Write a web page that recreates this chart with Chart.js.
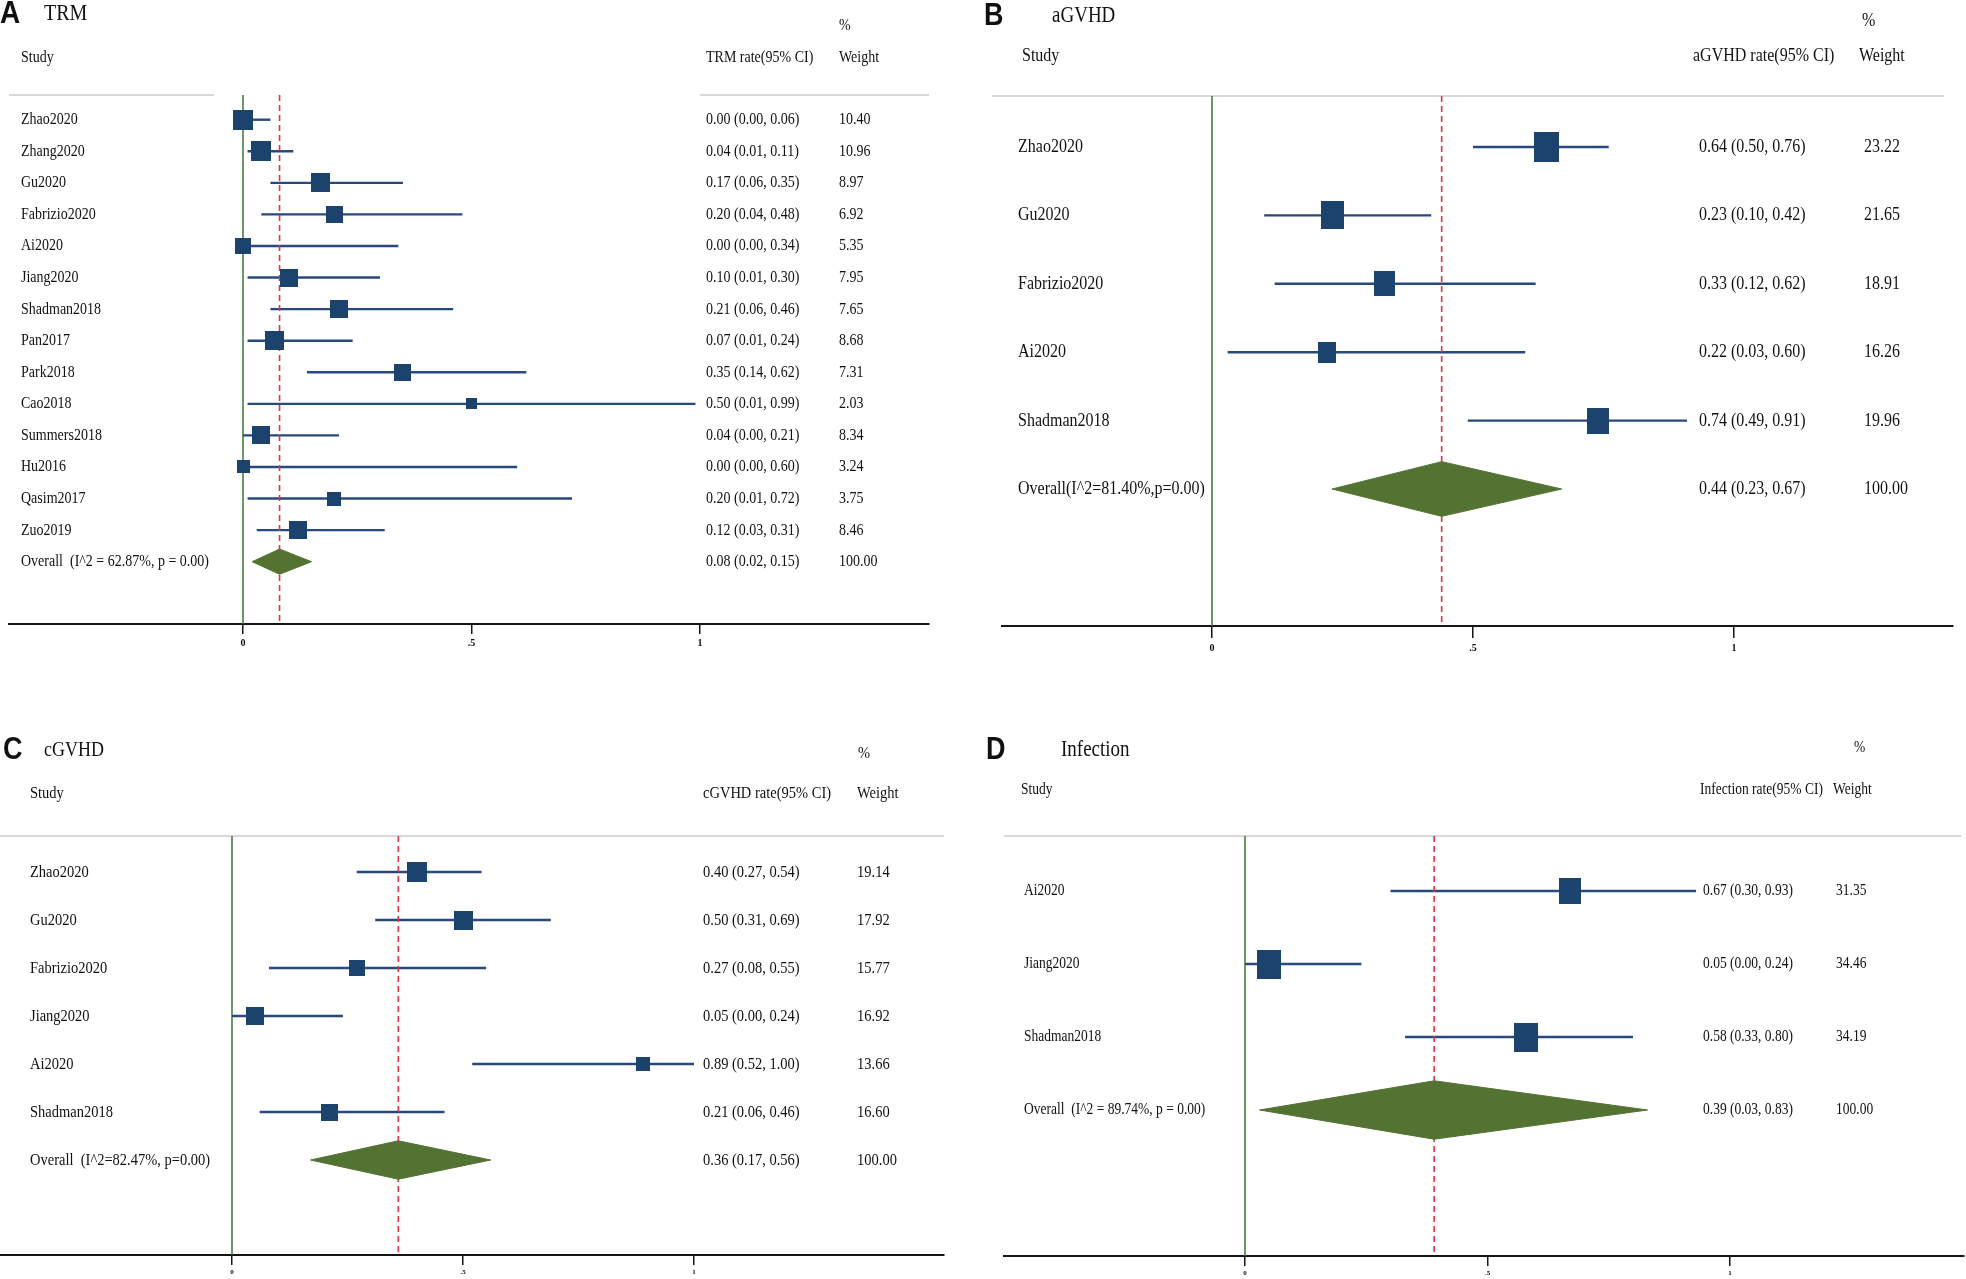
<!DOCTYPE html>
<html>
<head>
<meta charset="utf-8">
<script src="https://cdn.jsdelivr.net/npm/chart.js@4.4.1/dist/chart.umd.min.js"></script>
<style>
  html, body { margin: 0; padding: 0; background: #fff; }
  #wrap { position: relative; width: 1966px; height: 1279px; overflow: hidden; }
  canvas { position: absolute; }
</style>
</head>
<body>
<div id="wrap">
  <canvas id="panelA"></canvas>
  <canvas id="panelB"></canvas>
  <canvas id="panelC"></canvas>
  <canvas id="panelD"></canvas>
</div>
<script>
// axis ticks shared by all four plots
const tickValues = [0, 0.5, 1];
const tickLabels = ['0', '.5', '1'];

// A: TRM
const trmStudies = ['Zhao2020', 'Zhang2020', 'Gu2020', 'Fabrizio2020', 'Ai2020', 'Jiang2020', 'Shadman2018',
  'Pan2017', 'Park2018', 'Cao2018', 'Summers2018', 'Hu2016', 'Qasim2017', 'Zuo2019'];
const trmRate = [0.00, 0.04, 0.17, 0.20, 0.00, 0.10, 0.21, 0.07, 0.35, 0.50, 0.04, 0.00, 0.20, 0.12];
const trmLow = [0.00, 0.01, 0.06, 0.04, 0.00, 0.01, 0.06, 0.01, 0.14, 0.01, 0.00, 0.00, 0.01, 0.03];
const trmHigh = [0.06, 0.11, 0.35, 0.48, 0.34, 0.30, 0.46, 0.24, 0.62, 0.99, 0.21, 0.60, 0.72, 0.31];
const trmWeight = [10.40, 10.96, 8.97, 6.92, 5.35, 7.95, 7.65, 8.68, 7.31, 2.03, 8.34, 3.24, 3.75, 8.46];
const trmOverall = [0.08, 0.02, 0.15];

// B: aGVHD
const agvhdStudies = ['Zhao2020', 'Gu2020', 'Fabrizio2020', 'Ai2020', 'Shadman2018'];
const agvhdRate = [0.64, 0.23, 0.33, 0.22, 0.74];
const agvhdLow = [0.50, 0.10, 0.12, 0.03, 0.49];
const agvhdHigh = [0.76, 0.42, 0.62, 0.60, 0.91];
const agvhdWeight = [23.22, 21.65, 18.91, 16.26, 19.96];
const agvhdOverall = [0.44, 0.23, 0.67];

// C: cGVHD
const cgvhdStudies = ['Zhao2020', 'Gu2020', 'Fabrizio2020', 'Jiang2020', 'Ai2020', 'Shadman2018'];
const cgvhdRate = [0.40, 0.50, 0.27, 0.05, 0.89, 0.21];
const cgvhdLow = [0.27, 0.31, 0.08, 0.00, 0.52, 0.06];
const cgvhdHigh = [0.54, 0.69, 0.55, 0.24, 1.00, 0.46];
const cgvhdWeight = [19.14, 17.92, 15.77, 16.92, 13.66, 16.60];
const cgvhdOverall = [0.36, 0.17, 0.56];

// D: Infection
const infStudies = ['Ai2020', 'Jiang2020', 'Shadman2018'];
const infRate = [0.67, 0.05, 0.58];
const infLow = [0.30, 0.00, 0.33];
const infHigh = [0.93, 0.24, 0.80];
const infWeight = [31.35, 34.46, 34.19];
const infOverall = [0.39, 0.03, 0.83];

const overallWeight = 100.00;

const BOX = '#1c426e';
const CI_LINE = '#28497b';
const NULL_LINE = '#3a7833';
const POOLED = '#e0343f';
const DIAMOND = '#547332';
const TEXT = '#111';
const AXIS = '#151515';
const SERIF = '"Liberation Serif", "Times New Roman", serif';
const SANS = '"Liberation Sans", Arial, sans-serif';

// layout of each panel (page pixels)
const panels = [
  {
    id: 'panelA', box: [0, 0, 983, 660], letter: 'A', title: 'TRM', rateHead: 'TRM rate(95% CI)',
    studies: trmStudies, rate: trmRate, low: trmLow, high: trmHigh, weight: trmWeight, overall: trmOverall,
    overallLabel: 'Overall  (I^2 = 62.87%, p = 0.00)',
    left: 9, right: 929, top: 95, bottom: 624, zero: 243, unit: 457, row0: 119.7, step: 31.57,
    grayLine: [[9, 214], [700, 929]],
    boxSize: w => 4.4 + 4.8 * Math.sqrt(w), boxAspect: 1.0,
    axisH: 30, tickLen: 10, tickPad: 3, tickFont: 10,
    font: 14, titleFont: 20, letterFont: 28,
    pos: { letter: [0, 14], title: [44, 14], pct: [839, 26], study: [21, 58], rate: [706, 58], weight: [839, 58] },
    cols: [21, 706, 839]
  },
  {
    id: 'panelB', box: [983, 0, 983, 660], letter: 'B', title: 'aGVHD', rateHead: 'aGVHD rate(95% CI)',
    studies: agvhdStudies, rate: agvhdRate, low: agvhdLow, high: agvhdHigh, weight: agvhdWeight, overall: agvhdOverall,
    overallLabel: 'Overall(I^2=81.40%,p=0.00)',
    left: 1002, right: 1953, top: 96, bottom: 626, zero: 1212, unit: 522, row0: 147, step: 68.4,
    grayLine: [[992, 1944]],
    boxSize: w => -20.3 + 9.4 * Math.sqrt(w), boxAspect: 1.2,
    axisH: 30, tickLen: 12, tickPad: 4, tickFont: 10,
    font: 16, titleFont: 19, letterFont: 27,
    pos: { letter: [984, 16], title: [1052, 16], pct: [1862, 21], study: [1022, 56], rate: [1693, 56], weight: [1859, 56] },
    cols: [1018, 1699, 1864]
  },
  {
    id: 'panelC', box: [0, 660, 983, 619], letter: 'C', title: 'cGVHD', rateHead: 'cGVHD rate(95% CI)',
    studies: cgvhdStudies, rate: cgvhdRate, low: cgvhdLow, high: cgvhdHigh, weight: cgvhdWeight, overall: cgvhdOverall,
    overallLabel: 'Overall  (I^2=82.47%, p=0.00)',
    left: 0, right: 944, top: 836, bottom: 1255, zero: 232, unit: 462, row0: 872, step: 48,
    grayLine: [[0, 944]],
    boxSize: w => -18.6 + 8.8 * Math.sqrt(w), boxAspect: 1.0,
    axisH: 22, tickLen: 10, tickPad: 3, tickFont: 7,
    font: 14.5, titleFont: 18, letterFont: 27,
    pos: { letter: [3, 750], title: [44, 750], pct: [858, 753], study: [30, 793], rate: [703, 793], weight: [857, 793] },
    cols: [30, 703, 857]
  },
  {
    id: 'panelD', box: [983, 660, 983, 619], letter: 'D', title: 'Infection', rateHead: 'Infection rate(95% CI)',
    studies: infStudies, rate: infRate, low: infLow, high: infHigh, weight: infWeight, overall: infOverall,
    overallLabel: 'Overall  (I^2 = 89.74%, p = 0.00)',
    left: 1004, right: 1964, top: 836, bottom: 1256, zero: 1245, unit: 485, row0: 891, step: 73,
    grayLine: [[1004, 1961]],
    boxSize: w => -19.4 + 7.4 * Math.sqrt(w), boxAspect: 1.2,
    axisH: 22, tickLen: 10, tickPad: 3, tickFont: 7,
    font: 13.5, titleFont: 19, letterFont: 27,
    pos: { letter: [986, 750], title: [1061, 750], pct: [1854, 748], study: [1021, 790], rate: [1700, 790], weight: [1833, 790] },
    cols: [1024, 1703, 1836]
  }
];

// the printed text in the figure is tall and narrow, so stretch it a bit vertically
function drawText(ctx, str, x, y, font, sy, align) {
  ctx.save();
  ctx.font = font;
  ctx.fillStyle = TEXT;
  ctx.textBaseline = 'middle';
  ctx.textAlign = align || 'left';
  ctx.translate(x, y);
  ctx.scale(1, sy);
  ctx.fillText(str, 0, 0);
  ctx.restore();
}

function boxImage(w, h) {
  const c = document.createElement('canvas');
  c.width = Math.max(1, Math.round(w));
  c.height = Math.max(1, Math.round(h));
  const g = c.getContext('2d');
  g.fillStyle = BOX;
  g.fillRect(0, 0, c.width, c.height);
  return c;
}

const fmt = v => v.toFixed(2);

function makePanel(p) {
  const [bx, by, bw, bh] = p.box;
  const cv = document.getElementById(p.id);
  cv.width = bw;
  cv.height = bh;
  cv.style.left = bx + 'px';
  cv.style.top = by + 'px';
  cv.style.width = bw + 'px';
  cv.style.height = bh + 'px';

  const n = p.studies.length;
  const xMin = (p.left - p.zero) / p.unit;
  const xMax = (p.right - p.zero) / p.unit;
  const yMin = (p.top - p.row0) / p.step;
  const yMax = (p.bottom - p.row0) / p.step;
  const half = 0.4; // diamond half height, in rows

  const datasets = [];
  // line of no effect
  datasets.push({
    data: [{x: 0, y: yMin}, {x: 0, y: yMax}],
    borderColor: NULL_LINE, borderWidth: 1.5, pointRadius: 0, order: 5
  });
  // pooled estimate
  datasets.push({
    data: [{x: p.overall[0], y: yMin}, {x: p.overall[0], y: yMax}],
    borderColor: POOLED, borderWidth: 1.6, borderDash: [6, 4], pointRadius: 0, order: 3
  });
  // confidence intervals
  p.studies.forEach((s, i) => {
    datasets.push({
      data: [{x: p.low[i], y: i}, {x: p.high[i], y: i}],
      borderColor: CI_LINE, borderWidth: 2.4, pointRadius: 0, order: 4
    });
  });
  // weighted boxes
  datasets.push({
    data: p.rate.map((r, i) => ({x: r, y: i})),
    showLine: false,
    pointStyle: p.weight.map(w => {
      const s = p.boxSize(w);
      return boxImage(s, s * p.boxAspect);
    }),
    pointRadius: 5, order: 0
  });
  // overall diamond: upper half filled down to the lower half
  datasets.push({
    data: [{x: p.overall[1], y: n}, {x: p.overall[0], y: n - half}, {x: p.overall[2], y: n}],
    fill: '+1', backgroundColor: DIAMOND, borderColor: DIAMOND, borderWidth: 1, pointRadius: 0, order: 1
  });
  datasets.push({
    data: [{x: p.overall[1], y: n}, {x: p.overall[0], y: n + half}, {x: p.overall[2], y: n}],
    fill: false, borderColor: DIAMOND, borderWidth: 1, pointRadius: 0, order: 1
  });

  const textPlugin = {
    id: 'forestText',
    beforeDatasetsDraw(chart) {
      const ctx = chart.ctx;
      const yTop = chart.chartArea.top;
      ctx.save();
      ctx.strokeStyle = '#d9d9d9';
      ctx.lineWidth = 2;
      p.grayLine.forEach(([a, b]) => {
        ctx.beginPath();
        ctx.moveTo(a - bx, yTop);
        ctx.lineTo(b - bx, yTop);
        ctx.stroke();
      });
      ctx.restore();
    },
    afterDraw(chart) {
      const ctx = chart.ctx;
      const ys = chart.scales.y;
      const f = `${p.font}px ${SERIF}`;
      const L = q => [q[0] - bx, q[1] - by];
      let q = L(p.pos.letter);
      drawText(ctx, p.letter, q[0], q[1], `bold ${p.letterFont}px ${SANS}`, 1.15);
      q = L(p.pos.title);
      drawText(ctx, p.title, q[0], q[1], `${p.titleFont}px ${SERIF}`, 1.2);
      q = L(p.pos.pct);
      drawText(ctx, '%', q[0], q[1], f, 1.2);
      q = L(p.pos.study);
      drawText(ctx, 'Study', q[0], q[1], f, 1.2);
      q = L(p.pos.rate);
      drawText(ctx, p.rateHead, q[0], q[1], f, 1.2);
      q = L(p.pos.weight);
      drawText(ctx, 'Weight', q[0], q[1], f, 1.2);

      const [cLab, cEst, cW] = p.cols.map(c => c - bx);
      p.studies.forEach((s, i) => {
        const y = ys.getPixelForValue(i);
        drawText(ctx, s, cLab, y, f, 1.2);
        drawText(ctx, `${fmt(p.rate[i])} (${fmt(p.low[i])}, ${fmt(p.high[i])})`, cEst, y, f, 1.2);
        drawText(ctx, fmt(p.weight[i]), cW, y, f, 1.2);
      });
      const yo = ys.getPixelForValue(n);
      drawText(ctx, p.overallLabel, cLab, yo, f, 1.2);
      drawText(ctx, `${fmt(p.overall[0])} (${fmt(p.overall[1])}, ${fmt(p.overall[2])})`, cEst, yo, f, 1.2);
      drawText(ctx, fmt(overallWeight), cW, yo, f, 1.2);
    }
  };

  const topLocal = p.top - by;
  const bottomLocal = p.bottom - by;

  new Chart(cv, {
    type: 'line',
    data: { datasets },
    plugins: [textPlugin],
    options: {
      responsive: false,
      animation: false,
      events: [],
      layout: {
        autoPadding: false,
        padding: {
          left: p.left - bx,
          right: bx + bw - p.right,
          top: topLocal,
          bottom: bh - bottomLocal - p.axisH
        }
      },
      elements: { line: { tension: 0 } },
      plugins: {
        legend: { display: false },
        tooltip: { enabled: false },
        title: { display: false }
      },
      scales: {
        x: {
          type: 'linear',
          min: xMin,
          max: xMax,
          afterBuildTicks: s => { s.ticks = tickValues.map(v => ({value: v})); },
          afterFit: s => { s.height = p.axisH; },
          ticks: {
            autoSkip: false,
            maxRotation: 0,
            padding: p.tickPad,
            color: TEXT,
            font: { family: SERIF, size: p.tickFont, weight: 'bold' },
            callback: (v, i) => tickLabels[i]
          },
          grid: { drawOnChartArea: false, drawTicks: true, tickLength: p.tickLen, color: AXIS, lineWidth: 1.5 },
          border: { display: true, color: AXIS, width: 2 }
        },
        y: {
          type: 'linear',
          reverse: true,
          min: yMin,
          max: yMax,
          display: false
        }
      }
    }
  });
}

panels.forEach(makePanel);
</script>
</body>
</html>
